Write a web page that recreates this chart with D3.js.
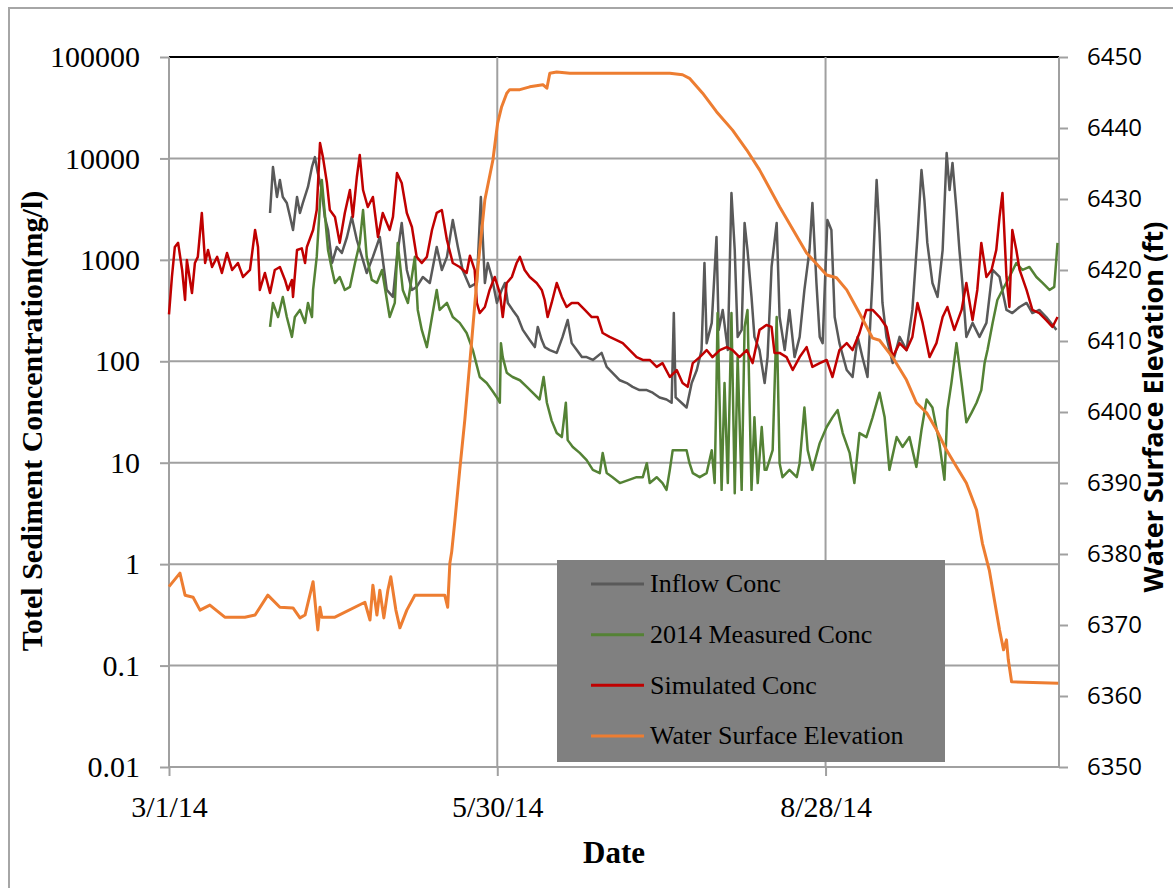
<!DOCTYPE html>
<html>
<head>
<meta charset="utf-8">
<script src="https://cdn.jsdelivr.net/npm/d3@7"></script>
<style>
  body { margin: 0; background: #fff; }
  svg { display: block; }
</style>
</head>
<body>
<div id="chart"></div>
<script>
// days after 3/1/14
const inflow = [
  [27.7, 2900], [28.5, 8240], [29.6, 4170], [30.4, 6120], [31.2, 4170], [32.3, 3640], [33.2, 2650], [34.0, 1970],
  [35.1, 4170], [35.9, 2900], [36.7, 3640], [38.1, 5230], [39.2, 8240], [40.0, 10300], [40.8, 7180], [41.9, 4880],
  [42.7, 2650], [43.6, 1970], [44.7, 931], [46.0, 1340], [47.4, 1170], [48.8, 1680], [50.1, 2650], [51.5, 1570],
  [52.9, 1070], [54.2, 743], [55.9, 1070], [57.8, 1680], [59.7, 505], [61.4, 431], [62.5, 1070], [63.8, 2310],
  [65.2, 795], [66.6, 505], [67.9, 541], [69.6, 678], [71.5, 592], [73.4, 1340], [74.8, 795], [76.2, 1070],
  [77.8, 2470], [79.2, 1340], [80.5, 795], [82.5, 541], [84.4, 592], [85.5, 4170], [86.6, 592], [87.4, 931],
  [88.5, 678], [89.9, 376], [91.2, 505], [92.1, 592], [92.9, 376], [94.2, 321], [95.6, 273], [97.0, 204],
  [98.9, 162], [100.3, 138], [101.1, 218], [102.2, 162], [103.0, 138], [104.4, 129], [106.3, 121], [107.9, 174],
  [109.3, 255], [110.4, 151], [111.8, 129], [113.2, 110], [114.5, 110], [116.2, 103], [118.6, 121], [120.0, 88],
  [121.6, 77], [123.6, 65], [125.5, 61], [127.1, 56], [129.0, 52], [131.0, 52], [132.6, 49], [134.5, 44],
  [136.4, 42], [137.8, 39], [138.4, 299], [138.9, 44], [140.5, 39], [141.9, 35], [143.3, 61], [144.7, 82],
  [146.0, 129], [146.8, 931], [147.4, 151], [148.8, 239], [150.1, 1680], [150.7, 204], [151.8, 321], [153.2, 129],
  [154.2, 4560], [155.1, 1250], [155.9, 174], [157.0, 204], [157.8, 2310], [158.6, 1250], [159.7, 431], [160.5, 174],
  [161.9, 129], [163.3, 61], [164.1, 110], [165.2, 851], [166.6, 2310], [167.4, 273], [168.8, 129], [170.1, 321],
  [171.5, 110], [172.9, 174], [174.2, 505], [175.6, 1250], [176.4, 3640], [177.5, 592], [178.4, 174], [179.2, 151],
  [180.5, 2470], [181.6, 1970], [182.5, 273], [183.8, 151], [185.8, 82], [187.4, 70], [188.8, 174], [190.1, 110],
  [191.5, 70], [192.9, 678], [194.0, 6120], [194.8, 1840], [195.6, 376], [196.7, 174], [198.4, 96], [200.3, 174],
  [202.2, 129], [203.8, 321], [205.2, 1680], [206.3, 7690], [207.1, 3890], [207.9, 1470], [209.3, 592], [210.7, 431],
  [212.1, 1250], [213.2, 11300], [214.0, 4880], [214.8, 9020], [215.9, 3100], [216.7, 1250], [217.5, 592], [218.6, 174],
  [220.3, 239], [222.2, 174], [224.1, 239], [225.8, 795], [227.7, 678], [229.6, 321], [231.2, 299], [233.2, 343],
  [235.1, 376], [236.7, 299], [238.6, 321], [240.5, 273], [243.3, 204]
];

const measured = [
  [27.7, 218], [28.5, 376], [29.9, 273], [31.2, 431], [32.3, 273], [33.7, 174], [34.5, 273], [35.9, 321],
  [37.3, 239], [38.1, 376], [39.2, 273], [39.5, 505], [40.5, 1070], [41.4, 3640], [41.9, 6120], [42.7, 2900],
  [43.6, 1250], [44.7, 795], [45.5, 592], [46.8, 678], [48.2, 505], [49.6, 541], [51.0, 931], [52.3, 1470],
  [53.2, 3100], [54.2, 1070], [55.6, 634], [57.0, 592], [58.4, 795], [60.5, 273], [61.9, 376], [62.7, 1470],
  [64.1, 505], [65.5, 376], [67.4, 1070], [68.2, 321], [69.3, 204], [70.7, 138], [72.1, 273], [73.4, 505],
  [74.2, 321], [76.2, 376], [77.8, 273], [79.7, 239], [81.6, 190], [83.3, 129], [85.2, 70], [87.1, 61],
  [88.5, 52], [89.9, 44], [90.7, 39], [91.0, 151], [91.5, 110], [92.6, 77], [94.2, 70], [96.2, 65],
  [98.1, 56], [99.7, 49], [101.6, 42], [102.7, 70], [103.6, 39], [104.9, 26], [106.3, 19.6], [107.7, 17.9],
  [108.8, 39], [109.3, 16.7], [110.7, 14.3], [112.6, 12.5], [114.5, 10.6], [116.2, 8.5], [118.1, 7.9], [118.9, 12.5],
  [120.0, 7.9], [121.6, 7.2], [123.6, 6.3], [128.2, 7.2], [129.9, 7.2], [131.0, 9.9], [131.8, 6.3], [133.7, 7.2],
  [135.3, 6.3], [136.4, 5.4], [137.3, 8.5], [138.1, 13.3], [140.0, 13.3], [141.9, 13.3], [142.7, 9.9], [143.6, 7.9],
  [145.5, 7.2], [147.4, 7.9], [148.8, 13.3], [149.6, 6.3], [150.1, 61], [150.4, 299], [151.5, 5.4], [152.3, 61],
  [153.2, 6.3], [154.2, 299], [155.1, 5.0], [155.9, 110], [157.0, 5.4], [157.8, 218], [158.6, 321], [159.7, 5.4],
  [160.5, 28], [161.4, 6.3], [162.5, 22.5], [163.3, 8.5], [163.8, 8.5], [165.5, 13.3], [166.6, 273], [167.4, 9.9],
  [168.2, 7.2], [170.1, 8.5], [172.1, 7.2], [172.9, 9.9], [174.2, 35], [175.1, 13.3], [176.4, 8.5], [178.4, 15.6],
  [180.3, 22.5], [181.9, 28], [183.3, 33], [184.7, 19.6], [186.6, 12.5], [187.9, 6.3], [189.3, 19.6], [191.2, 17.9],
  [192.9, 28], [194.8, 49], [196.2, 28], [197.5, 8.5], [199.5, 17.9], [201.1, 14.3], [203.0, 17.9], [204.9, 9.1],
  [206.3, 21], [207.7, 42], [209.3, 35], [211.2, 15.6], [212.6, 6.8], [213.4, 33], [214.5, 61], [215.9, 151],
  [217.3, 61], [218.6, 25], [220.0, 31], [221.4, 39], [222.7, 52], [223.6, 96], [224.4, 129], [225.8, 239],
  [227.1, 402], [228.5, 505], [230.4, 678], [232.3, 931], [234.0, 795], [235.9, 851], [237.8, 678], [239.5, 592],
  [241.4, 505], [242.7, 541], [243.6, 1470]
];

const simulated = [
  [0, 290], [0.8, 678], [1.6, 1340], [2.5, 1470], [3.6, 795], [4.4, 402], [4.9, 997], [6.3, 471],
  [7.1, 931], [7.9, 1070], [9.0, 2900], [9.9, 931], [10.7, 1250], [11.8, 851], [13.2, 1070], [14.5, 743],
  [15.9, 1170], [17.3, 795], [18.9, 931], [20.3, 678], [22.2, 795], [23.6, 1970], [24.4, 1340], [24.9, 505],
  [26.3, 743], [27.7, 471], [29.0, 795], [30.4, 851], [31.8, 634], [32.6, 505], [33.7, 634], [34.0, 431],
  [35.1, 1250], [36.4, 1300], [37.3, 931], [37.8, 1340], [39.5, 1970], [40.5, 3100], [41.4, 14200], [42.2, 10300],
  [43.3, 5720], [44.1, 3100], [45.5, 2650], [46.8, 1470], [48.2, 2900], [49.6, 4880], [50.4, 2650], [51.5, 6560],
  [52.3, 10800], [53.2, 4880], [54.5, 3320], [55.9, 4170], [57.3, 1680], [58.6, 2900], [60.5, 1970], [61.4, 2650],
  [62.5, 7180], [63.8, 5720], [65.2, 2900], [66.6, 2110], [67.9, 1070], [69.3, 931], [70.7, 1070], [72.1, 1970],
  [73.4, 2900], [74.8, 3100], [76.2, 1570], [77.8, 931], [79.7, 851], [81.6, 743], [82.5, 1100], [83.8, 795],
  [84.4, 376], [85.2, 299], [86.6, 343], [87.9, 505], [89.3, 678], [90.7, 471], [91.5, 273], [92.6, 592],
  [94.0, 678], [95.3, 931], [96.2, 1070], [97.5, 795], [98.9, 678], [100.8, 592], [102.2, 505], [103.0, 402],
  [103.8, 273], [104.9, 376], [106.3, 592], [107.7, 431], [109.0, 343], [110.4, 376], [112.1, 376], [114.0, 321],
  [115.9, 273], [117.5, 273], [118.9, 190], [120.8, 174], [122.7, 162], [124.4, 151], [126.3, 129], [128.2, 110],
  [129.9, 103], [131.8, 103], [133.7, 88], [135.3, 96], [137.3, 70], [139.2, 82], [140.8, 61], [142.2, 56],
  [143.6, 96], [145.5, 110], [147.4, 129], [149.0, 110], [151.0, 129], [152.9, 138], [154.5, 129], [156.4, 110],
  [158.4, 129], [160.0, 96], [161.9, 204], [163.8, 228], [165.2, 218], [166.0, 121], [167.4, 121], [169.3, 110],
  [171.0, 82], [172.9, 110], [174.8, 138], [176.4, 88], [178.4, 96], [180.3, 103], [181.9, 70], [183.8, 129],
  [185.8, 151], [187.4, 129], [189.3, 190], [191.2, 321], [192.9, 321], [194.8, 273], [196.7, 218], [198.4, 110],
  [200.3, 151], [202.2, 129], [203.8, 174], [205.2, 376], [206.6, 239], [208.5, 110], [210.4, 151], [212.1, 273],
  [213.4, 343], [215.3, 204], [217.3, 321], [218.6, 592], [220.3, 255], [221.6, 505], [222.7, 1470], [224.1, 678],
  [225.5, 795], [226.8, 1250], [227.7, 2650], [228.5, 4560], [229.6, 678], [230.4, 343], [231.2, 1970], [232.3, 1250],
  [233.2, 795], [235.1, 505], [236.7, 321], [238.6, 299], [240.5, 255], [242.2, 218], [243.6, 273]
];

const elevation = [
  [0, 6375.4], [3.0, 6377.3], [4.4, 6374.2], [6.6, 6373.9], [8.5, 6372.1], [11.2, 6372.8], [15.3, 6371.1], [20.8, 6371.1],
  [23.6, 6371.4], [27.1, 6374.2], [30.4, 6372.5], [34.0, 6372.4], [35.9, 6371.0], [37.3, 6371.4], [39.5, 6376.1], [40.8, 6369.3],
  [41.4, 6372.5], [41.9, 6371.1], [45.5, 6371.1], [53.7, 6373.2], [55.1, 6370.7], [55.9, 6375.6], [57.0, 6371.4], [57.8, 6374.9],
  [58.9, 6371.0], [60.0, 6374.9], [60.8, 6376.8], [62.2, 6372.1], [63.3, 6369.6], [65.2, 6372.1], [67.4, 6374.2], [75.6, 6374.2],
  [76.4, 6372.5], [77.0, 6378.7], [77.5, 6380.3], [78.4, 6384.8], [79.7, 6391.8], [81.1, 6398.9], [83.0, 6410.1], [84.7, 6420.4],
  [86.6, 6429.9], [88.8, 6435.5], [90.1, 6440.7], [91.2, 6443.0], [92.6, 6444.9], [93.4, 6445.4], [96.2, 6445.4], [98.9, 6445.8],
  [102.5, 6446.1], [103.6, 6445.6], [104.4, 6447.7], [106.3, 6447.9], [109.9, 6447.7], [137.3, 6447.7], [140.8, 6447.5], [142.7, 6447.0],
  [146.3, 6444.9], [150.1, 6442.3], [154.5, 6439.7], [158.4, 6436.9], [161.9, 6434.1], [167.4, 6428.9], [174.8, 6422.4], [180.3, 6419.3],
  [183.0, 6418.9], [185.8, 6417.2], [189.3, 6413.9], [192.9, 6410.4], [194.8, 6410.1], [198.4, 6407.7], [202.2, 6404.5], [204.9, 6401.3],
  [207.7, 6399.9], [210.4, 6397.5], [213.2, 6394.6], [215.9, 6392.3], [218.6, 6390.0], [221.4, 6386.2], [223.0, 6381.5], [224.9, 6377.7],
  [226.3, 6373.5], [227.7, 6369.3], [228.8, 6366.5], [229.6, 6367.9], [230.1, 6365.1], [231.0, 6362.0], [243.8, 6361.8]
];

const concTicks = [0.01, 0.1, 1, 10, 100, 1000, 10000, 100000];
const elevTicks = [6350, 6360, 6370, 6380, 6390, 6400, 6410, 6420, 6430, 6440, 6450];
const dateTicks = ["2014-03-01", "2014-05-30", "2014-08-28"];

const seriesList = [
  {name: "Inflow Conc", data: inflow, color: "#595959", width: 2.5, axis: "left"},
  {name: "2014 Measured Conc", data: measured, color: "#548235", width: 2.5, axis: "left"},
  {name: "Simulated Conc", data: simulated, color: "#c00000", width: 2.5, axis: "left"},
  {name: "Water Surface Elevation", data: elevation, color: "#ed7d31", width: 3, axis: "right"}
];

const width = 1173, height = 888;
const plotLeft = 169, plotRight = 1059, plotTop = 57, plotBottom = 767;
const start = Date.UTC(2014, 2, 1);
const dayToDate = d => new Date(start + d * 864e5);
const serif = "'Liberation Serif', 'Times New Roman', serif";
const sans = "'Open Sans', 'Liberation Sans', sans-serif";
const gridColor = "#a0a0a0";

const svg = d3.select("#chart").append("svg")
  .attr("width", width)
  .attr("height", height);

svg.append("rect").attr("width", width).attr("height", height).attr("fill", "#fff");
// chart frame, only the left and top edges are in view
svg.append("rect")
  .attr("x", 9).attr("y", 8)
  .attr("width", 1200).attr("height", 900)
  .attr("fill", "none")
  .attr("stroke", "#a6a6a6")
  .attr("stroke-width", 2);

const x = d3.scaleUtc()
  .domain([new Date(start), new Date(Date.UTC(2014, 9, 31))])
  .range([plotLeft, plotRight]);
const yL = d3.scaleLog().domain([0.01, 100000]).range([plotBottom, plotTop]);
const yR = d3.scaleLinear().domain([6350, 6450]).range([plotBottom, plotTop]);

// grid
svg.append("g").selectAll("line")
  .data(concTicks.slice(1))
  .join("line")
    .attr("x1", plotLeft).attr("x2", plotRight)
    .attr("y1", d => yL(d)).attr("y2", d => yL(d))
    .attr("stroke", d => d === 100000 ? "#000" : gridColor)
    .attr("stroke-width", 2);

svg.append("g").selectAll("line")
  .data(dateTicks.slice(1))
  .join("line")
    .attr("x1", d => x(new Date(d))).attr("x2", d => x(new Date(d)))
    .attr("y1", plotTop).attr("y2", plotBottom)
    .attr("stroke", gridColor)
    .attr("stroke-width", 2);

function styleAxis(g, font, size) {
  g.select(".domain").remove();
  g.selectAll(".tick line").attr("stroke", gridColor).attr("stroke-width", 2);
  g.selectAll(".tick text")
    .attr("fill", "#000")
    .style("font-family", font)
    .style("font-size", size + "px");
}

svg.append("g")
  .attr("transform", `translate(${plotLeft},0)`)
  .call(d3.axisLeft(yL).tickValues(concTicks).tickSize(9).tickPadding(20)
    .tickFormat(d => String(d)))
  .call(g => styleAxis(g, serif, 30));

svg.append("g")
  .attr("transform", `translate(${plotRight},0)`)
  .call(d3.axisRight(yR).tickValues(elevTicks).tickSize(9).tickPadding(19)
    .tickFormat(d3.format("d")))
  .call(g => styleAxis(g, sans, 24));

const fmt = d3.utcFormat("%-m/%-d/%y");
svg.append("g")
  .attr("transform", `translate(0,${plotBottom})`)
  .call(d3.axisBottom(x).tickValues(dateTicks.map(d => new Date(d))).tickSize(9).tickPadding(20)
    .tickFormat(fmt))
  .call(g => styleAxis(g, serif, 30));

// axis lines
svg.append("line").attr("x1", plotLeft).attr("x2", plotLeft).attr("y1", plotTop).attr("y2", plotBottom)
  .attr("stroke", gridColor).attr("stroke-width", 2);
svg.append("line").attr("x1", plotRight).attr("x2", plotRight).attr("y1", plotTop).attr("y2", plotBottom)
  .attr("stroke", gridColor).attr("stroke-width", 2);
svg.append("line").attr("x1", plotLeft).attr("x2", plotRight).attr("y1", plotBottom).attr("y2", plotBottom)
  .attr("stroke", gridColor).attr("stroke-width", 2);

// series
seriesList.forEach(s => {
  const yScale = s.axis === "left" ? yL : yR;
  const line = d3.line()
    .x(d => x(dayToDate(d[0])))
    .y(d => yScale(d[1]));
  svg.append("path")
    .datum(s.data)
    .attr("fill", "none")
    .attr("stroke", s.color)
    .attr("stroke-width", s.width)
    .attr("stroke-linejoin", "round")
    .attr("d", line);
});

// titles
svg.append("text")
  .attr("transform", `translate(42,421) rotate(-90)`)
  .attr("text-anchor", "middle")
  .style("font-family", serif)
  .style("font-weight", "bold")
  .style("font-size", "30px")
  .text("Totel Sediment Concentration(mg/l)");

svg.append("text")
  .attr("transform", `translate(1163,407) rotate(-90)`)
  .attr("text-anchor", "middle")
  .attr("textLength", 371)
  .attr("lengthAdjust", "spacingAndGlyphs")
  .style("font-family", sans)
  .style("font-weight", "bold")
  .style("font-size", "26px")
  .text("Water Surface Elevation (ft)");

svg.append("text")
  .attr("x", (plotLeft + plotRight) / 2)
  .attr("y", 863)
  .attr("text-anchor", "middle")
  .style("font-family", serif)
  .style("font-weight", "bold")
  .style("font-size", "31px")
  .text("Date");

// legend
const legend = svg.append("g");
legend.append("rect")
  .attr("x", 557).attr("y", 560)
  .attr("width", 388).attr("height", 202)
  .attr("fill", "#808080");

const rowY = d3.scalePoint().domain(seriesList.map(s => s.name)).range([584, 736]);
const rows = legend.selectAll("g.row")
  .data(seriesList)
  .join("g")
    .attr("class", "row")
    .attr("transform", d => `translate(0,${rowY(d.name)})`);
rows.append("line")
  .attr("x1", 591).attr("x2", 644)
  .attr("stroke", d => d.color)
  .attr("stroke-width", 3);
rows.append("text")
  .attr("x", 650)
  .attr("dy", "0.32em")
  .style("font-family", serif)
  .style("font-size", "26px")
  .text(d => d.name);
</script>
</body>
</html>
